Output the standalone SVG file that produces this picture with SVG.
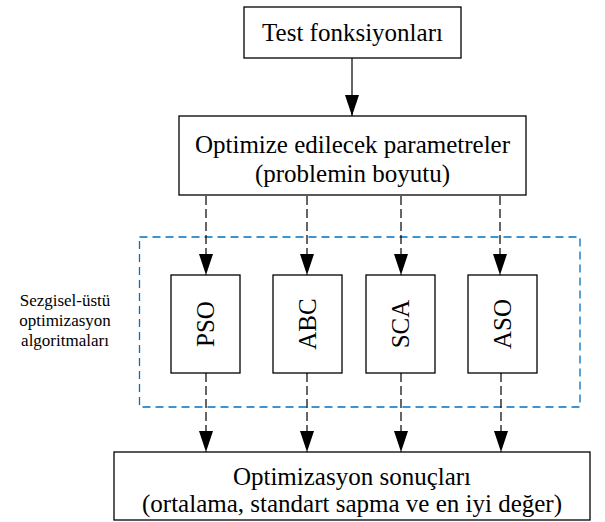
<svg xmlns="http://www.w3.org/2000/svg" width="605" height="522" viewBox="0 0 605 522">
<style>
.box{fill:#fff;stroke:#000;stroke-width:1.3}
.t{font-family:"Liberation Serif","Times New Roman",serif;font-size:25px;fill:#000;text-anchor:middle}
.s{font-family:"Liberation Serif","Times New Roman",serif;font-size:17px;fill:#000;text-anchor:middle}
.c{stroke:#000;stroke-width:1.2;fill:none}
.d{stroke-dasharray:9,4}
.grp{fill:none;stroke:#0070C0;stroke-width:1.3;stroke-dasharray:8,5}
</style>
<defs>
<marker id="ah" markerUnits="userSpaceOnUse" markerWidth="14" markerHeight="22" viewBox="0 0 14 22" refX="21" refY="7" orient="auto">
<path d="M0,0 L21,7 L0,14 Z" fill="#000"/>
</marker>
<marker id="a" markerUnits="userSpaceOnUse" markerWidth="22" markerHeight="14" viewBox="0 0 22 14" refX="21" refY="7" orient="auto">
<path d="M0,0 L21,7 L0,14 Z" fill="#000"/>
</marker>
</defs>
<rect class="grp" x="139.5" y="237" width="440.5" height="170"/>
<g id="connectors">
<line class="c" x1="352" y1="58" x2="352" y2="116" marker-end="url(#a)"/>
<line class="c d" x1="206" y1="196" x2="206" y2="275" marker-end="url(#a)"/>
<line class="c d" x1="307" y1="196" x2="307" y2="275" marker-end="url(#a)"/>
<line class="c d" x1="401" y1="196" x2="401" y2="275" marker-end="url(#a)"/>
<line class="c d" x1="500" y1="196" x2="500" y2="275" marker-end="url(#a)"/>
<line class="c d" x1="206" y1="373" x2="206" y2="452" marker-end="url(#a)"/>
<line class="c d" x1="307" y1="373" x2="307" y2="452" marker-end="url(#a)"/>
<line class="c d" x1="401" y1="373" x2="401" y2="452" marker-end="url(#a)"/>
<line class="c d" x1="501" y1="373" x2="501" y2="452" marker-end="url(#a)"/>
</g>
<g id="test">
<rect class="box" x="244" y="7" width="217" height="51"/>
<text class="t" x="352.5" y="41">Test fonksiyonları</text>
</g>
<g id="params">
<rect class="box" x="179" y="116" width="347" height="79"/>
<text class="t" x="352.5" y="153">Optimize edilecek parametreler</text>
<text class="t" x="352.5" y="182">(problemin boyutu)</text>
</g>
<g id="label">
<text class="s" x="65" y="306">Sezgisel-üstü</text>
<text class="s" x="65" y="326">optimizasyon</text>
<text class="s" x="65" y="346">algoritmaları</text>
</g>
<g id="pso">
<rect class="box" x="171" y="275" width="69" height="98"/>
<text class="t" transform="translate(214,324) rotate(-90)">PSO</text>
</g>
<g id="abc">
<rect class="box" x="273" y="275" width="69" height="98"/>
<text class="t" transform="translate(316,324) rotate(-90)">ABC</text>
</g>
<g id="sca">
<rect class="box" x="366" y="275" width="69" height="98"/>
<text class="t" transform="translate(409,324) rotate(-90)">SCA</text>
</g>
<g id="aso">
<rect class="box" x="468" y="275" width="69" height="98"/>
<text class="t" transform="translate(511,324) rotate(-90)">ASO</text>
</g>
<g id="results">
<rect class="box" x="114" y="452" width="476" height="68"/>
<text class="t" x="352" y="485">Optimizasyon sonuçları</text>
<text class="t" x="352" y="512">(ortalama, standart sapma ve en iyi değer)</text>
</g>
</svg>
